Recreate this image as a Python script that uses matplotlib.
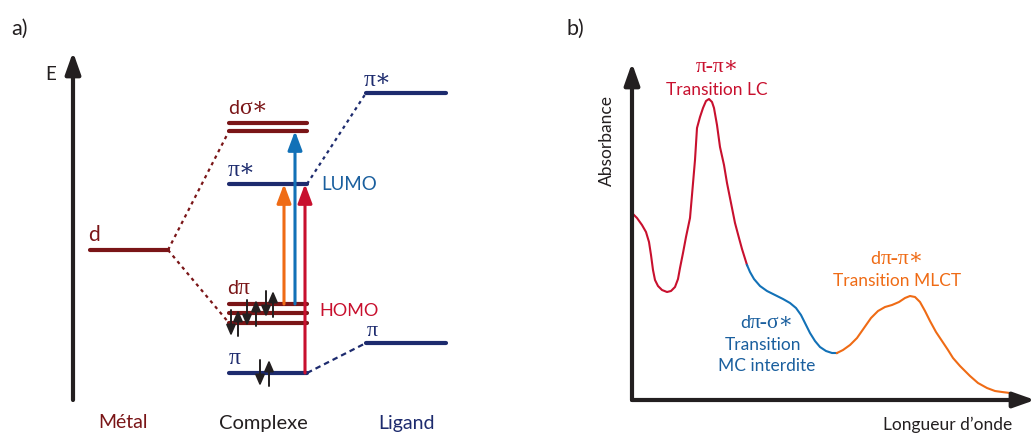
import matplotlib
matplotlib.use("Agg")
import matplotlib.pyplot as plt
from matplotlib.offsetbox import TextArea, HPacker, AnnotationBbox

# energy levels (arbitrary units)
metal_d = 15.0
complex_dsigma = [27.7, 26.9]
complex_pistar = 21.6
complex_dpi = [9.6, 8.7, 7.7]
complex_pi = 2.7
ligand_pistar = 30.7
ligand_pi = 5.7

# absorbance spectrum (wavelength, absorbance, arbitrary units)
wl_lc = [0, 5, 10, 14, 17, 19, 21, 23, 26, 30, 35, 39, 43, 46, 48, 51, 54, 58, 60, 63,
         65, 68, 71, 74, 77, 80, 82, 85, 88, 92, 95, 99, 103, 107, 110, 115]
abs_lc = [187, 182, 175, 168, 158, 145, 130, 120, 114, 110, 108, 109, 113, 121, 132, 147, 163, 182, 205, 240,
          272, 283, 292, 299, 301, 298, 292, 275, 253, 235, 217, 197, 177, 162, 151, 135]
wl_mc = [115, 118, 122, 128, 135, 143, 151, 158, 164, 169, 173, 178, 183, 188, 194, 200, 205]
abs_mc = [135, 128, 121, 114, 109, 105, 101, 97, 92, 85, 77, 67, 59, 53, 49, 47, 47]
wl_mlct = [205, 211, 218, 225, 232, 239, 246, 253, 260, 267, 273, 278, 283, 288, 293, 298, 304, 310, 316, 321,
           328, 338, 346, 355, 363, 370, 378]
abs_mlct = [47, 50, 55, 62, 72, 82, 89, 93, 95, 98, 102, 104, 103, 98, 89, 79, 68, 59, 50, 42,
            34, 24, 17, 12, 9, 8, 7]

darkred = '#7a1517'
navy = '#1d2b6e'
blue = '#1271b7'
tblue = '#1a5f9e'
red = '#c8102e'
orange = '#ef6b15'
black = '#231f20'

SANS = ['Lato', 'DejaVu Sans']
GREEK = ['Liberation Serif', 'DejaVu Serif']


def label(ax, x, y, parts, color, size, gsize, align=(0, 0.5)):
    boxes = []
    for s, greek in parts:
        if greek:
            tp = dict(color=color, size=gsize, family=GREEK)
        else:
            tp = dict(color=color, size=size, family=SANS)
        boxes.append(TextArea(s, textprops=tp))
    pack = HPacker(children=boxes, align='baseline', pad=0, sep=0)
    ab = AnnotationBbox(pack, (x, y), xycoords='data', box_alignment=align,
                        frameon=False, pad=0)
    ax.add_artist(ab)


def arrow(ax, x0, y0, x1, y1, color, lw, hl, hw):
    ax.annotate('', xy=(x1, y1), xytext=(x0, y0),
                arrowprops=dict(arrowstyle='-|>,head_length=%g,head_width=%g' % (hl, hw),
                                color=color, lw=lw, shrinkA=0, shrinkB=0,
                                mutation_scale=1))


fig = plt.figure(figsize=(10.36, 4.34), dpi=100)

# ---------------- a) energy diagram ----------------
ax = fig.add_axes([0, 0, 0.5, 1])
ax.set_xlim(0, 518)
ax.set_ylim(-3.4, 40)
ax.axis('off')

col_m = (90, 168)
col_c = (229, 307)
col_l = (366, 446)
lvl = dict(lw=3, solid_capstyle='round')

# correlation lines
ax.plot([col_m[1], col_c[0]], [metal_d, complex_dsigma[1]], color=darkred, lw=1.6, ls=(0, (1.5, 1.8)))
ax.plot([col_m[1], col_c[0]], [metal_d, complex_dpi[2]], color=darkred, lw=1.6, ls=(0, (1.5, 1.8)))
ax.plot([col_c[1], col_l[0]], [complex_pistar, ligand_pistar], color=navy, lw=1.6, ls=(0, (1.5, 1.8)))
ax.plot([col_c[1], col_l[0]], [complex_pi, ligand_pi], color=navy, lw=1.6, ls=(0, (2.5, 1.8)))

# levels
ax.plot(col_m, [metal_d] * 2, color=darkred, **lvl)
for e in complex_dsigma:
    ax.plot(col_c, [e] * 2, color=darkred, **lvl)
ax.plot(col_c, [complex_pistar] * 2, color=navy, **lvl)
for e in complex_dpi:
    ax.plot(col_c, [e] * 2, color=darkred, **lvl)
ax.plot(col_c, [complex_pi] * 2, color=navy, **lvl)
ax.plot(col_l, [ligand_pistar] * 2, color=navy, **lvl)
ax.plot(col_l, [ligand_pi] * 2, color=navy, **lvl)

# energy axis
arrow(ax, 73, 0, 73, 34.8, black, 3, 13, 4.6)
ax.text(51, 32.5, 'E', color=black, size=13.5, family=SANS, ha='center', va='center')

# transitions
arrow(ax, 284, complex_dpi[0], 284, complex_pistar, orange, 2.2, 11.5, 4.3)
arrow(ax, 295, complex_dpi[0], 295, complex_dsigma[1], blue, 2.2, 11.5, 4.3)
arrow(ax, 305, complex_pi, 305, complex_pistar, red, 2.2, 11.5, 4.3)

# electron spins (down, up) on each occupied level
spins = [(complex_dpi[2], 231, 238), (complex_dpi[1], 247, 256),
         (complex_dpi[0], 266, 273), (complex_pi, 260, 269)]
for e, xd, xu in spins:
    arrow(ax, xd, e + 1.3, xd, e - 1.3, black, 1.4, 6.5, 2.8)
    arrow(ax, xu, e - 1.3, xu, e + 1.3, black, 1.4, 6.5, 2.8)

# labels
label(ax, 88, 16.5, [('d', False)], darkred, 15, 15)
label(ax, 228, 29.2, [('d', False), ('σ∗', True)], darkred, 14, 17)
label(ax, 228, 22.9, [('π∗', True)], navy, 14, 17)
label(ax, 227, 11.2, [('d', False), ('π', True)], darkred, 14, 17)
label(ax, 229, 4.1, [('π', True)], navy, 14, 17)
label(ax, 364, 32.0, [('π∗', True)], navy, 14, 17)
label(ax, 367, 6.9, [('π', True)], navy, 14, 16)
ax.text(321, 21.6, 'LUMO', color=tblue, size=13.5, family=SANS, va='center')
ax.text(319, 8.9, 'HOMO', color=red, size=13, family=SANS, va='center')

ax.text(123, -2.3, 'Métal', color=darkred, size=14, family=SANS, ha='center', va='center')
ax.text(263, -2.3, 'Complexe', color=black, size=14.5, family=SANS, ha='center', va='center')
ax.text(406, -2.3, 'Ligand', color=navy, size=14, family=SANS, ha='center', va='center')
ax.text(11, 37.1, 'a)', color=black, size=15.5, family=SANS, va='center')

# ---------------- b) absorption spectrum ----------------
bx = fig.add_axes([0.5, 0, 0.5, 1])
bx.set_xlim(-114, 404)
bx.set_ylim(-34, 400)
bx.axis('off')

arrow(bx, 0, 0, 0, 337, black, 3, 13, 4.6)
arrow(bx, 0, 0, 403, 0, black, 3, 13, 4.6)

bx.plot(wl_lc, abs_lc, color=red, lw=1.5, solid_joinstyle='round')
bx.plot(wl_mc, abs_mc, color=blue, lw=1.5, solid_joinstyle='round')
bx.plot(wl_mlct, abs_mlct, color=orange, lw=1.5, solid_joinstyle='round')

label(bx, 85, 332, [('π-π∗', True)], red, 13, 15.5, align=(0.5, 0.5))
bx.text(85, 310, 'Transition LC', color=red, size=12.5, family=SANS, ha='center', va='center')
label(bx, 135, 77, [('d', False), ('π-σ∗', True)], tblue, 13, 15.5, align=(0.5, 0.5))
bx.text(131, 55, 'Transition', color=tblue, size=12.5, family=SANS, ha='center', va='center')
bx.text(135, 34, 'MC interdite', color=tblue, size=12.5, family=SANS, ha='center', va='center')
label(bx, 265, 140, [('d', False), ('π-π∗', True)], orange, 13, 15.5, align=(0.5, 0.5))
bx.text(265, 119, 'Transition MLCT', color=orange, size=12.5, family=SANS, ha='center', va='center')

bx.text(-25, 259, 'Absorbance', color=black, size=12.5, family=SANS, rotation=90,
        ha='center', va='center')
bx.text(316, -25, 'Longueur d’onde', color=black, size=12.5, family=SANS,
        ha='center', va='center')
bx.text(-65, 370.9, 'b)', color=black, size=15.5, family=SANS, va='center')

fig.savefig('out.png', dpi=100)
